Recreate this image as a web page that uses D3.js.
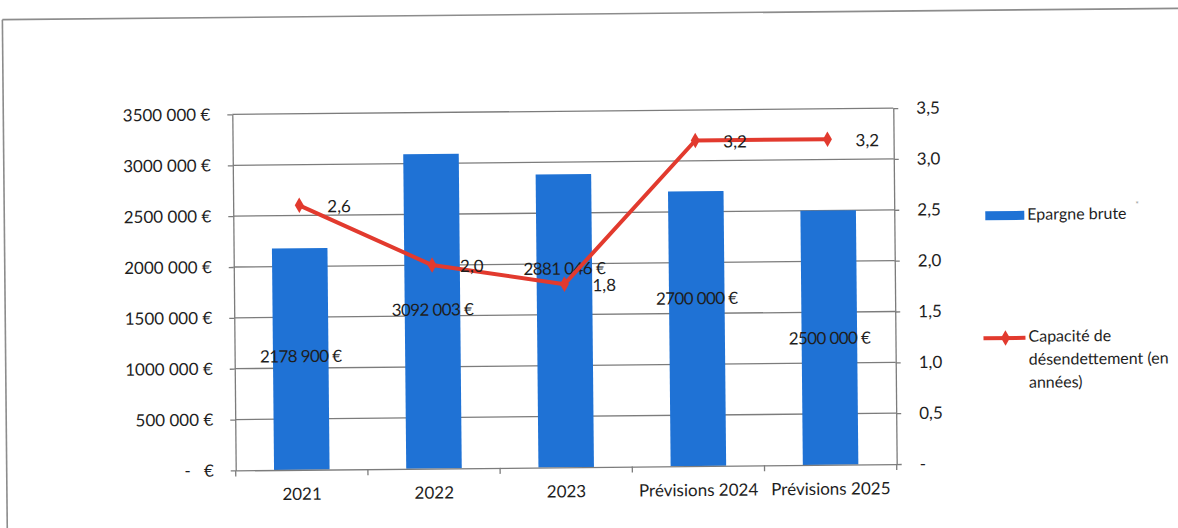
<!DOCTYPE html>
<html lang="fr">
<head>
<meta charset="utf-8">
<script src="https://cdn.jsdelivr.net/npm/d3@7"></script>
<style>
  html, body { margin: 0; padding: 0; background: #fff; overflow: hidden; }
  svg { display: block; font-family: Lato, "Open Sans", sans-serif; }
</style>
</head>
<body>
<svg id="chart" width="1178" height="528"></svg>
<script>
// Épargne brute (bars, left axis) and capacité de désendettement (line, right axis)
const categories = ["2021", "2022", "2023", "Prévisions 2024", "Prévisions 2025"];
const epargneBrute = [2178900, 3092003, 2881046, 2700000, 2500000];
const capacite = [2.6, 2.0, 1.8, 3.2, 3.2];
const capaciteLabels = ["2,6", "2,0", "1,8", "3,2", "3,2"];
const leftTicks = [0, 500000, 1000000, 1500000, 2000000, 2500000, 3000000, 3500000];
const leftTickLabels = ["-   €", "500 000 €", "1000 000 €", "1500 000 €", "2000 000 €", "2500 000 €", "3000 000 €", "3500 000 €"];
const rightTicks = [0, 0.5, 1, 1.5, 2, 2.5, 3, 3.5];
const rightTickLabels = ["-", "0,5", "1,0", "1,5", "2,0", "2,5", "3,0", "3,5"];
const legendBars = "Epargne brute";
const legendLine = ["Capacité de", "désendettement (en", "années)"];

// Where each bar's value label sits, expressed on the left axis
const barLabelLevel = [1100000, 1545000, 1937000, 1632000, 1229000];

const fmtEuro = v => {
  const s = String(Math.round(v));
  return s.slice(0, -3) + " " + s.slice(-3) + " €";
};

const svg = d3.select("#chart");
svg.append("rect").attr("width", 1178).attr("height", 528).attr("fill", "#fff");

// whole sheet sits slightly askew
const g = svg.append("g").attr("transform", "rotate(-0.55 590 290)");

// outer chart frame (left and top edges)
g.append("line").attr("x1", 5).attr("x2", 5).attr("y1", 14).attr("y2", 560)
  .attr("stroke", "#8c8c8c").attr("stroke-width", 1.6);
g.append("line").attr("x1", 5).attr("x2", 1190).attr("y1", 14).attr("y2", 14)
  .attr("stroke", "#8c8c8c").attr("stroke-width", 1.6);

const plot = { left: 234, right: 895, top: 111, bottom: 467 };

const x = d3.scaleBand().domain(categories).range([plot.left, plot.right]).padding(0);
const yL = d3.scaleLinear().domain([0, 3500000]).range([plot.bottom, plot.top]);
const yR = d3.scaleLinear().domain([0, 3.5]).range([plot.bottom, plot.top]);

const fontSize = 17;
const textColor = "#1e1e1e";
const gridColor = "#7c7c7c";

// horizontal gridlines
g.append("g").selectAll("line")
  .data(leftTicks.slice(1))
  .join("line")
  .attr("x1", plot.left).attr("x2", plot.right)
  .attr("y1", d => yL(d)).attr("y2", d => yL(d))
  .attr("stroke", gridColor).attr("stroke-width", 1.3);

// bars
const barW = x.bandwidth() * 0.42;
g.append("g").selectAll("rect")
  .data(epargneBrute)
  .join("rect")
  .attr("x", (d, i) => x(categories[i]) + x.bandwidth() / 2 - barW / 2)
  .attr("y", d => yL(d))
  .attr("width", barW)
  .attr("height", d => yL(0) - yL(d))
  .attr("fill", "#1f72d5");

// left axis
const axL = g.append("g")
  .attr("transform", `translate(${plot.left},0)`)
  .call(d3.axisLeft(yL).tickValues(leftTicks)
    .tickFormat((d, i) => leftTickLabels[i])
    .tickSizeInner(5).tickSizeOuter(0).tickPadding(17));
axL.select(".domain").attr("stroke", gridColor).attr("stroke-width", 1.3);
axL.selectAll(".tick line").attr("stroke", gridColor).attr("stroke-width", 1.3);
axL.selectAll(".tick text").attr("font-size", fontSize).attr("fill", textColor)
  .attr("font-family", "Lato, sans-serif").style("white-space", "pre");

// right axis
const axR = g.append("g")
  .attr("transform", `translate(${plot.right},0)`)
  .call(d3.axisRight(yR).tickValues(rightTicks)
    .tickFormat((d, i) => rightTickLabels[i])
    .tickSizeInner(5).tickSizeOuter(0).tickPadding(18));
axR.select(".domain").attr("stroke", gridColor).attr("stroke-width", 1.3);
axR.selectAll(".tick line").attr("stroke", gridColor).attr("stroke-width", 1.3);
axR.selectAll(".tick text").attr("font-size", fontSize).attr("fill", textColor)
  .attr("font-family", "Lato, sans-serif");

// category axis
const axX = g.append("g")
  .attr("transform", `translate(0,${plot.bottom})`)
  .call(d3.axisBottom(x).tickSize(0).tickPadding(18));
axX.select(".domain").attr("stroke", gridColor).attr("stroke-width", 1.3);
axX.selectAll(".tick text").attr("font-size", fontSize).attr("fill", textColor)
  .attr("font-family", "Lato, sans-serif");
// tick marks between categories
g.append("g").selectAll("line")
  .data(d3.range(categories.length + 1))
  .join("line")
  .attr("x1", i => plot.left + i * x.step()).attr("x2", i => plot.left + i * x.step())
  .attr("y1", plot.bottom).attr("y2", plot.bottom + 6)
  .attr("stroke", gridColor).attr("stroke-width", 1.3);

// bar value labels
g.append("g").selectAll("text")
  .data(epargneBrute)
  .join("text")
  .attr("x", (d, i) => x(categories[i]) + x.bandwidth() / 2)
  .attr("y", (d, i) => yL(barLabelLevel[i]))
  .attr("text-anchor", "middle").attr("dominant-baseline", "middle")
  .attr("font-size", fontSize).attr("fill", textColor)
  .attr("letter-spacing", -0.6)
  .text(d => fmtEuro(d));

// debt capacity line
const lineColor = "#e23a2e";
const cx = i => x(categories[i]) + x.bandwidth() / 2;
g.append("path")
  .datum(capacite)
  .attr("d", d3.line().x((d, i) => cx(i)).y(d => yR(d)))
  .attr("fill", "none").attr("stroke", lineColor).attr("stroke-width", 4)
  .attr("stroke-linejoin", "round");

const diamond = d3.symbol().type(d3.symbolDiamond).size(70);
g.append("g").selectAll("path")
  .data(capacite)
  .join("path")
  .attr("transform", (d, i) => `translate(${cx(i)},${yR(d)})`)
  .attr("d", diamond)
  .attr("fill", lineColor);

g.append("g").selectAll("text")
  .data(capacite)
  .join("text")
  .attr("x", (d, i) => cx(i) + 28)
  .attr("y", d => yR(d) + 3)
  .attr("dominant-baseline", "middle")
  .attr("font-size", fontSize).attr("fill", textColor)
  .text((d, i) => capaciteLabels[i]);

// legend
const leg = g.append("g");
leg.append("rect").attr("x", 986).attr("y", 215).attr("width", 39).attr("height", 9).attr("fill", "#1f72d5");
leg.append("text").attr("x", 1028).attr("y", 220).attr("dominant-baseline", "middle")
  .attr("font-size", fontSize - 1).attr("fill", textColor).text(legendBars);
leg.append("text").attr("x", 1136).attr("y", 213).attr("font-size", 9).attr("fill", "#999").text("*");

leg.append("line").attr("x1", 983).attr("x2", 1025).attr("y1", 342).attr("y2", 342)
  .attr("stroke", lineColor).attr("stroke-width", 4);
leg.append("path").attr("transform", "translate(1005,342)").attr("d", diamond).attr("fill", lineColor);
leg.append("g").selectAll("text")
  .data(legendLine)
  .join("text")
  .attr("x", 1028).attr("y", (d, i) => 342 + i * 23)
  .attr("dominant-baseline", "middle")
  .attr("font-size", fontSize - 1).attr("fill", textColor)
  .text(d => d);
</script>
</body>
</html>
